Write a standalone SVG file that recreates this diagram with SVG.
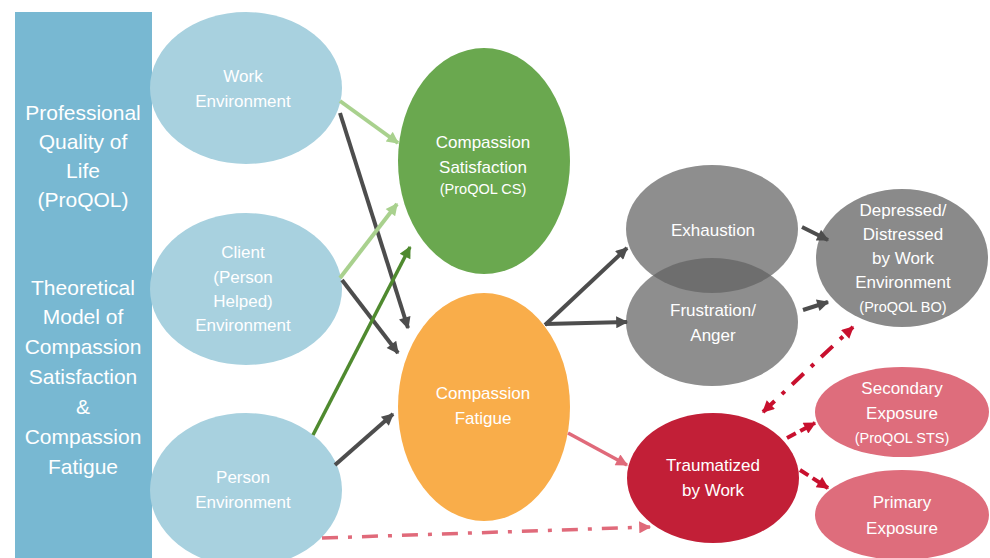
<svg xmlns="http://www.w3.org/2000/svg" width="990" height="558" viewBox="0 0 990 558">
<defs>
<style>
text{font-family:"Liberation Sans",Arial,sans-serif;fill:#fff;text-anchor:middle}
.t{font-size:17px}
.s{font-size:14.5px}
.b{font-size:21px}
.gr{stroke:#4d4d4d;stroke-width:4;fill:none}
.lg{stroke:#a9d18e;stroke-width:4;fill:none}
.dg{stroke:#4f8a2f;stroke-width:3.5;fill:none}
.pk{stroke:#e06a7a;stroke-width:3.5;fill:none}
.rd{stroke:#c8102e;stroke-width:4;fill:none}
</style>
<marker id="aGr" viewBox="0 0 10 10" refX="9" refY="5" markerWidth="14" markerHeight="12" markerUnits="userSpaceOnUse" orient="auto"><path d="M0,0 L10,5 L0,10 z" fill="#4d4d4d"/></marker>
<marker id="aLg" viewBox="0 0 10 10" refX="9" refY="5" markerWidth="14" markerHeight="12" markerUnits="userSpaceOnUse" orient="auto"><path d="M0,0 L10,5 L0,10 z" fill="#a9d18e"/></marker>
<marker id="aDg" viewBox="0 0 10 10" refX="9" refY="5" markerWidth="14" markerHeight="12" markerUnits="userSpaceOnUse" orient="auto"><path d="M0,0 L10,5 L0,10 z" fill="#4f8a2f"/></marker>
<marker id="aPk" viewBox="0 0 10 10" refX="9" refY="5" markerWidth="14" markerHeight="12" markerUnits="userSpaceOnUse" orient="auto"><path d="M0,0 L10,5 L0,10 z" fill="#e06a7a"/></marker>
<marker id="aRd" viewBox="0 0 10 10" refX="9" refY="5" markerWidth="14" markerHeight="12" markerUnits="userSpaceOnUse" orient="auto-start-reverse"><path d="M0,0 L10,5 L0,10 z" fill="#c8102e"/></marker>
</defs>
<rect width="990" height="558" fill="#fff"/>

<g id="title-bar">
<rect x="15" y="12" width="137" height="546" fill="#78b8d2"/>
<text class="b" x="83" y="120">Professional</text>
<text class="b" x="83" y="149">Quality of</text>
<text class="b" x="83" y="178">Life</text>
<text class="b" x="83" y="207">(ProQOL)</text>
<text class="b" x="83" y="295">Theoretical</text>
<text class="b" x="83" y="324">Model of</text>
<text class="b" x="83" y="354">Compassion</text>
<text class="b" x="83" y="384">Satisfaction</text>
<text class="b" x="83" y="414">&amp;</text>
<text class="b" x="83" y="444">Compassion</text>
<text class="b" x="83" y="474">Fatigue</text>
</g>

<g id="work-env">
<ellipse cx="246" cy="88" rx="96" ry="76" fill="#a8d1df"/>
<text class="t" x="243" y="82">Work</text>
<text class="t" x="243" y="107">Environment</text>
</g>
<g id="client-env">
<ellipse cx="246" cy="289" rx="96" ry="76" fill="#a8d1df"/>
<text class="t" x="243" y="258">Client</text>
<text class="t" x="243" y="283">(Person</text>
<text class="t" x="243" y="307">Helped)</text>
<text class="t" x="243" y="331">Environment</text>
</g>
<g id="person-env">
<ellipse cx="246" cy="490" rx="96" ry="77" fill="#a8d1df"/>
<text class="t" x="243" y="483">Person</text>
<text class="t" x="243" y="508">Environment</text>
</g>

<g id="compassion-satisfaction">
<ellipse cx="484" cy="161" rx="86" ry="113" fill="#6aa84f"/>
<text class="t" x="483" y="148">Compassion</text>
<text class="t" x="483" y="173">Satisfaction</text>
<text class="s" x="483" y="194">(ProQOL CS)</text>
</g>
<g id="compassion-fatigue">
<ellipse cx="484" cy="407" rx="86" ry="114" fill="#f9ad4a"/>
<text class="t" x="483" y="399">Compassion</text>
<text class="t" x="483" y="424">Fatigue</text>
</g>

<g id="exhaustion">
<ellipse cx="712" cy="229" rx="86" ry="64" fill="#636363" fill-opacity="0.72"/>
<text class="t" x="713" y="236">Exhaustion</text>
</g>
<g id="frustration">
<ellipse cx="712" cy="322" rx="86" ry="64" fill="#636363" fill-opacity="0.72"/>
<text class="t" x="713" y="316">Frustration/</text>
<text class="t" x="713" y="341">Anger</text>
</g>
<g id="depressed">
<ellipse cx="902" cy="258" rx="86" ry="69" fill="#8a8a8a"/>
<text class="t" x="903" y="216">Depressed/</text>
<text class="t" x="903" y="240">Distressed</text>
<text class="t" x="903" y="264">by Work</text>
<text class="t" x="903" y="288">Environment</text>
<text class="s" x="903" y="312">(ProQOL BO)</text>
</g>
<g id="traumatized">
<ellipse cx="713" cy="478" rx="86" ry="65" fill="#c21f37"/>
<text class="t" x="713" y="471">Traumatized</text>
<text class="t" x="713" y="496">by Work</text>
</g>
<g id="secondary">
<ellipse cx="902" cy="412" rx="87" ry="45" fill="#de6d7c"/>
<text class="t" x="902" y="394">Secondary</text>
<text class="t" x="902" y="419">Exposure</text>
<text class="s" x="902" y="443">(ProQOL STS)</text>
</g>
<g id="primary">
<ellipse cx="902" cy="515" rx="87" ry="45" fill="#de6d7c"/>
<text class="t" x="902" y="508">Primary</text>
<text class="t" x="902" y="534">Exposure</text>
</g>

<g id="connectors">
<line class="lg" x1="340" y1="101" x2="398" y2="143" marker-end="url(#aLg)"/>
<line class="gr" x1="340" y1="113" x2="408" y2="328" marker-end="url(#aGr)"/>
<line class="lg" x1="340" y1="278" x2="397" y2="204" marker-end="url(#aLg)"/>
<line class="gr" x1="342" y1="280" x2="398" y2="353" marker-end="url(#aGr)"/>
<line class="dg" x1="313" y1="435" x2="410" y2="247" marker-end="url(#aDg)"/>
<line class="gr" x1="335" y1="465" x2="393" y2="414" marker-end="url(#aGr)"/>
<line class="gr" x1="545" y1="325" x2="627" y2="248" marker-end="url(#aGr)"/>
<line class="gr" x1="545" y1="324" x2="627" y2="322" marker-end="url(#aGr)"/>
<line class="gr" x1="802" y1="227" x2="828" y2="240" marker-end="url(#aGr)"/>
<line class="gr" x1="803" y1="310" x2="828" y2="302" marker-end="url(#aGr)"/>
<line class="pk" x1="568" y1="433" x2="627" y2="465" marker-end="url(#aPk)"/>
<line class="pk" x1="322" y1="538" x2="650" y2="527" stroke-dasharray="16,10,4,10" marker-end="url(#aPk)"/>
<line class="rd" x1="763" y1="412" x2="853" y2="327" stroke-dasharray="16,10,4,10" marker-start="url(#aRd)" marker-end="url(#aRd)"/>
<line class="rd" x1="787" y1="438" x2="815" y2="423" stroke-dasharray="10,5" marker-end="url(#aRd)"/>
<line class="rd" x1="800" y1="470" x2="828" y2="488" stroke-dasharray="10,5" marker-end="url(#aRd)"/>
</g>
</svg>
